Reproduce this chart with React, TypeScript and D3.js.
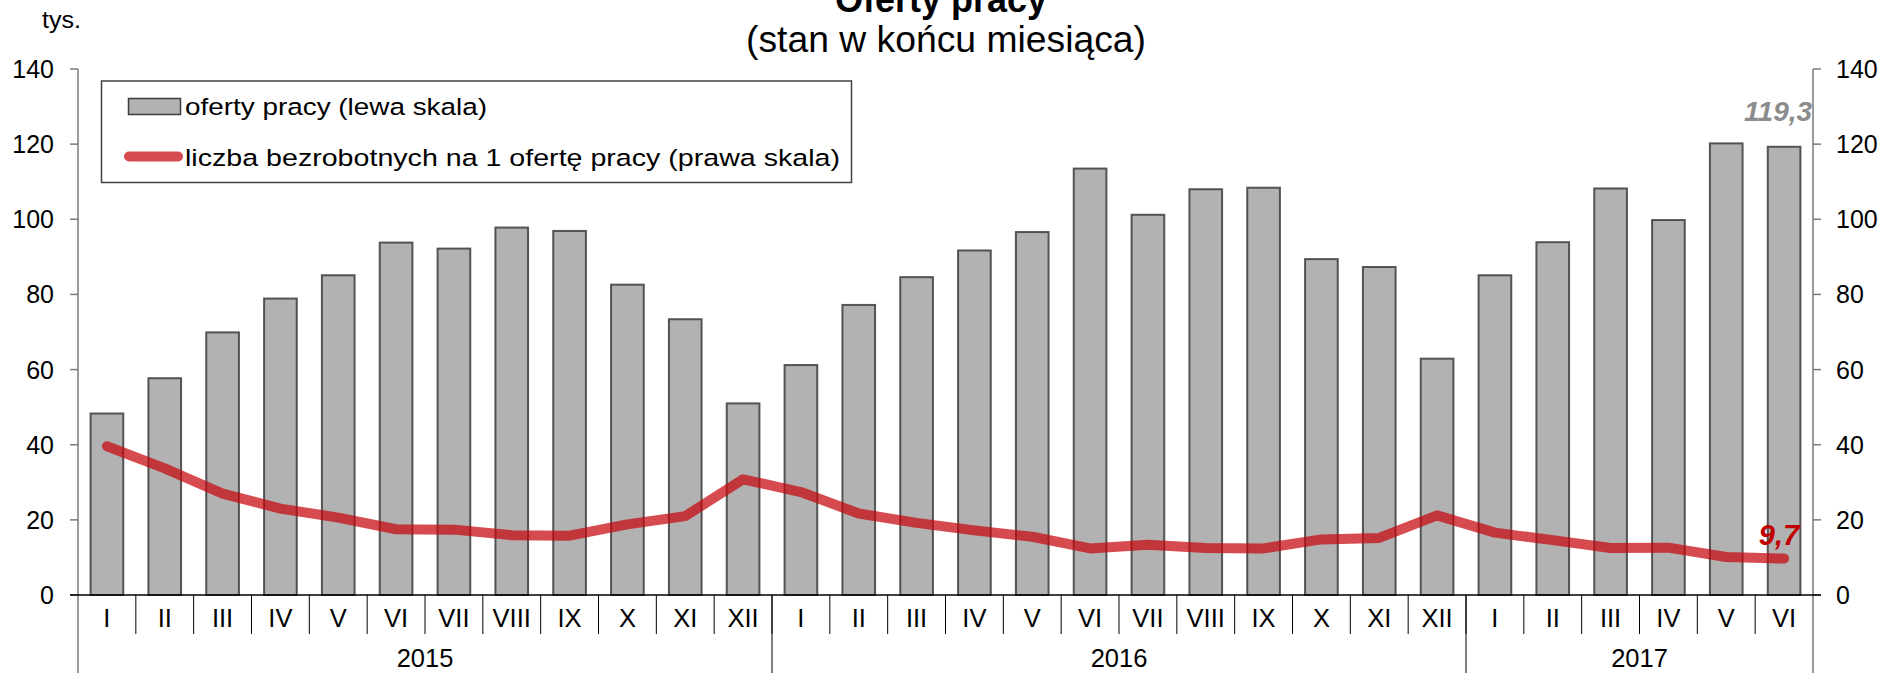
import React from "react";
import * as d3 from "d3";

const months: string[] = [
  "I","II","III","IV","V","VI","VII","VIII","IX","X","XI","XII",
  "I","II","III","IV","V","VI","VII","VIII","IX","X","XI","XII",
  "I","II","III","IV","V","VI",
];
const years: { label: string; count: number }[] = [
  { label: "2015", count: 12 },
  { label: "2016", count: 12 },
  { label: "2017", count: 6 },
];
const offers: number[] = [
  48.3, 57.7, 69.9, 78.9, 85.1, 93.8, 92.2, 97.8, 96.9, 82.6, 73.4, 51.0,
  61.2, 77.2, 84.6, 91.7, 96.6, 113.5, 101.2, 108.0, 108.4, 89.4, 87.3, 62.9,
  85.1, 93.9, 108.2, 99.8, 120.2, 119.3,
];
const ratio: number[] = [
  39.6, 33.7, 27.0, 23.0, 20.6, 17.5, 17.4, 15.9, 15.8, 18.8, 21.0, 30.8,
  27.4, 21.7, 19.2, 17.2, 15.5, 12.4, 13.4, 12.5, 12.4, 14.8, 15.2, 21.2,
  16.6, 14.6, 12.5, 12.6, 10.1, 9.7,
];
const yTicks: number[] = [0, 20, 40, 60, 80, 100, 120, 140];
const titleText = "Oferty pracy";
const subtitleText = "(stan w końcu miesiąca)";
const unitText = "tys.";
const legendBars = "oferty pracy (lewa skala)";
const legendLine = "liczba bezrobotnych na 1 ofertę pracy (prawa skala)";
const lastOfferLabel = "119,3";
const lastRatioLabel = "9,7";

const W = 1887;
const H = 673;
const FONT = "'Liberation Sans', Arial, sans-serif";

export default function App() {
  const left = 78;
  const right = 1813;
  const top = 69;
  const bottom = 595;

  const idx = months.map((_, i) => i);
  const cell = d3.scaleBand<number>().domain(idx).range([left, right]).padding(0);
  const step = cell.bandwidth();
  const barW = step * 0.565;
  const y = d3.scaleLinear().domain([0, 140]).range([bottom, top]);
  const yR = d3.scaleLinear().domain([0, 140]).range([bottom, top]);
  const cx = (i: number) => (cell(i) as number) + step / 2;

  const linePath = d3
    .line<number>()
    .x((_, i) => cx(i))
    .y((d) => yR(d))(ratio) as string;

  const lineColor = "#c6050c";
  const lineOpacity = 0.72;

  let acc = 0;
  const yearCells = years.map((yr) => {
    const start = acc;
    acc += yr.count;
    return { ...yr, start, end: acc };
  });
  const cellEdge = (k: number) => left + k * step;

  const lastI = months.length - 1;

  return (
    <svg
      width={W}
      height={H}
      style={{ position: "absolute", left: 0, top: 0, background: "#fff" }}
      fontFamily={FONT}
    >
      {/* Title */}
      <text x={941} y={12} textAnchor="middle" fontSize={36} fontWeight="bold" textLength={212} lengthAdjust="spacingAndGlyphs">
        {titleText}
      </text>
      <text x={946} y={52} textAnchor="middle" fontSize={37} textLength={400} lengthAdjust="spacingAndGlyphs">
        {subtitleText}
      </text>
      <text x={42} y={28} fontSize={24} textLength={39} lengthAdjust="spacingAndGlyphs">
        {unitText}
      </text>

      {/* Bars */}
      {offers.map((v, i) => (
        <rect
          key={"b" + i}
          x={cx(i) - barW / 2}
          y={y(v)}
          width={barW}
          height={y(0) - y(v)}
          fill="#b2b2b2"
          stroke="#3c3c3c"
          strokeWidth={2}
          strokeOpacity={0.85}
        />
      ))}

      {/* Line */}
      <path
        d={linePath}
        fill="none"
        stroke={lineColor}
        strokeOpacity={lineOpacity}
        strokeWidth={10}
        strokeLinecap="round"
        strokeLinejoin="round"
      />

      {/* Left axis */}
      <line x1={left} x2={left} y1={top} y2={H} stroke="#7a7a7a" strokeWidth={1.5} />
      {yTicks.map((t) => (
        <g key={"yl" + t}>
          <line x1={left - 8} x2={left} y1={y(t)} y2={y(t)} stroke="#7a7a7a" strokeWidth={1.5} />
          <text x={54} y={y(t) + 9} textAnchor="end" fontSize={25}>
            {t}
          </text>
        </g>
      ))}

      {/* Right axis */}
      <line x1={right} x2={right} y1={top} y2={H} stroke="#7a7a7a" strokeWidth={1.5} />
      {yTicks.map((t) => (
        <g key={"yr" + t}>
          <line x1={right} x2={right + 8} y1={yR(t)} y2={yR(t)} stroke="#7a7a7a" strokeWidth={1.5} />
          <text x={1836} y={yR(t) + 9} textAnchor="start" fontSize={25}>
            {t}
          </text>
        </g>
      ))}

      {/* Category axis */}
      <line x1={left - 8} x2={right + 8} y1={bottom} y2={bottom} stroke="#000" strokeWidth={1.5} />
      {idx.slice(1).map((k) => (
        <line key={"s" + k} x1={cellEdge(k)} x2={cellEdge(k)} y1={bottom} y2={634} stroke="#000" strokeWidth={1} />
      ))}
      {months.map((m, i) => (
        <text key={"m" + i} x={cx(i)} y={627} textAnchor="middle" fontSize={25.5}>
          {m}
        </text>
      ))}
      {yearCells.map((yc) => (
        <g key={"y" + yc.label}>
          {yc.start > 0 && (
            <line x1={cellEdge(yc.start)} x2={cellEdge(yc.start)} y1={bottom} y2={H} stroke="#000" strokeWidth={1} />
          )}
          <text x={(cellEdge(yc.start) + cellEdge(yc.end)) / 2} y={667} textAnchor="middle" fontSize={25.5}>
            {yc.label}
          </text>
        </g>
      ))}

      {/* Value labels */}
      <text
        x={cx(lastI) + 28}
        y={y(offers[lastI]) - 26}
        textAnchor="end"
        fontSize={28}
        fontWeight="bold"
        fontStyle="italic"
        fill="#8c8c8c"
      >
        {lastOfferLabel}
      </text>
      <text
        x={cx(lastI) + 15}
        y={yR(ratio[lastI]) - 14}
        textAnchor="end"
        fontSize={29}
        fontWeight="bold"
        fontStyle="italic"
        fill="#c00000"
      >
        {lastRatioLabel}
      </text>

      {/* Legend */}
      <rect x={101.5} y={81} width={750} height={101.5} fill="#fff" stroke="#404040" strokeWidth={1.5} />
      <rect x={128.5} y={98.5} width={52} height={16} fill="#b2b2b2" stroke="#3c3c3c" strokeWidth={1.5} />
      <text x={185} y={114.5} fontSize={24.5} textLength={302} lengthAdjust="spacingAndGlyphs">
        {legendBars}
      </text>
      <line
        x1={129}
        x2={178}
        y1={156.5}
        y2={156.5}
        stroke={lineColor}
        strokeOpacity={lineOpacity}
        strokeWidth={10}
        strokeLinecap="round"
      />
      <text x={185} y={165.5} fontSize={24.5} textLength={655} lengthAdjust="spacingAndGlyphs">
        {legendLine}
      </text>
    </svg>
  );
}
